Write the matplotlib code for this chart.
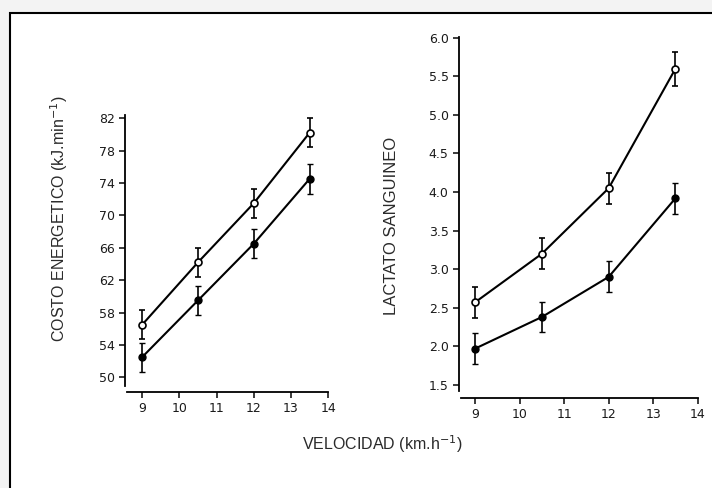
import matplotlib
matplotlib.use("Agg")
import matplotlib.pyplot as plt
from matplotlib.patches import Rectangle

# velocidad (km/h)
vel = [9, 10.5, 12, 13.5]

# costo energetico (kJ/min)
costo_open = [56.5, 64.2, 71.5, 80.2]
costo_open_err = [1.8, 1.8, 1.8, 1.8]
costo_fill = [52.5, 59.5, 66.5, 74.5]
costo_fill_err = [1.8, 1.8, 1.8, 1.8]

# lactato sanguineo
lact_open = [2.57, 3.2, 4.05, 5.6]
lact_open_err = [0.2, 0.2, 0.2, 0.22]
lact_fill = [1.97, 2.38, 2.9, 3.92]
lact_fill_err = [0.2, 0.2, 0.2, 0.2]

costo_ticks = [50, 54, 58, 62, 66, 70, 74, 78, 82]
lact_ticks = [1.5, 2.0, 2.5, 3.0, 3.5, 4.0, 4.5, 5.0, 5.5, 6.0]
x_ticks = [9, 10, 11, 12, 13, 14]

W, H = 712, 488
fig = plt.figure(figsize=(W / 100, H / 100), dpi=100)
fig.patch.set_facecolor("#f3f3f3")
# white panel with black frame (behind the axes)
fig.patches.append(Rectangle((10 / W, -0.1), 1.1, 1 - 13 / H + 0.1, transform=fig.transFigure,
                             facecolor="white", edgecolor="black", linewidth=1.5, zorder=-5))


def px_axes(l, r, b, t):
    return fig.add_axes([l / W, 1 - b / H, (r - l) / W, (b - t) / H])


def style(ax, ylim, xlim, yticks, fmt):
    ax.set_facecolor("none")
    ax.set_xlim(*xlim)
    ax.set_ylim(*ylim)
    ax.spines["top"].set_visible(False)
    ax.spines["right"].set_visible(False)
    ax.spines["left"].set_bounds(ylim[0] + (ylim[1] - ylim[0]) * 0.02, ylim[1])
    ax.spines["bottom"].set_bounds(xlim[0] + (xlim[1] - xlim[0]) * 0.01, 14)
    ax.spines["left"].set_linewidth(1.3)
    ax.spines["bottom"].set_linewidth(1.3)
    ax.set_yticks(yticks)
    ax.set_yticklabels([fmt.format(v) for v in yticks])
    ax.set_xticks(x_ticks)
    ax.tick_params(direction="out", length=4, width=1.2, labelsize=9, colors="#1a1a1a")


def plot_pair(ax, y1, e1, y2, e2, ms):
    ax.errorbar(vel, y1, yerr=e1, color="black", lw=1.5, capsize=2.5, elinewidth=1.2,
                marker="o", ms=ms, mfc="white", mec="black", mew=1.2)
    ax.errorbar(vel, y2, yerr=e2, color="black", lw=1.5, capsize=2.5, elinewidth=1.2,
                marker="o", ms=ms, mfc="black", mec="black")


ax1 = px_axes(125, 330, 392, 115)
style(ax1, (48.2, 82.4), (8.54, 14.05), costo_ticks, "{:d}")
plot_pair(ax1, costo_open, costo_open_err, costo_fill, costo_fill_err, 5)

ax2 = px_axes(459, 700, 398, 37)
style(ax2, (1.33, 6.01), (8.64, 14.05), lact_ticks, "{:.1f}")
plot_pair(ax2, lact_open, lact_open_err, lact_fill, lact_fill_err, 5)

lab = dict(family="Liberation Sans", color="#2a2a2a")
fig.text(59 / W, 1 - 219 / H, "COSTO ENERGETICO (kJ.min$^{-1}$)", rotation=90,
         ha="center", va="center", fontsize=11.5, **lab)
fig.text(391 / W, 1 - 226 / H, "LACTATO SANGUINEO", rotation=90,
         ha="center", va="center", fontsize=12, **lab)
fig.text(382 / W, 1 - 444 / H, "VELOCIDAD (km.h$^{-1}$)", ha="center", va="center",
         fontsize=11.5, **lab)

fig.savefig("out.png", dpi=100, facecolor=fig.get_facecolor())
